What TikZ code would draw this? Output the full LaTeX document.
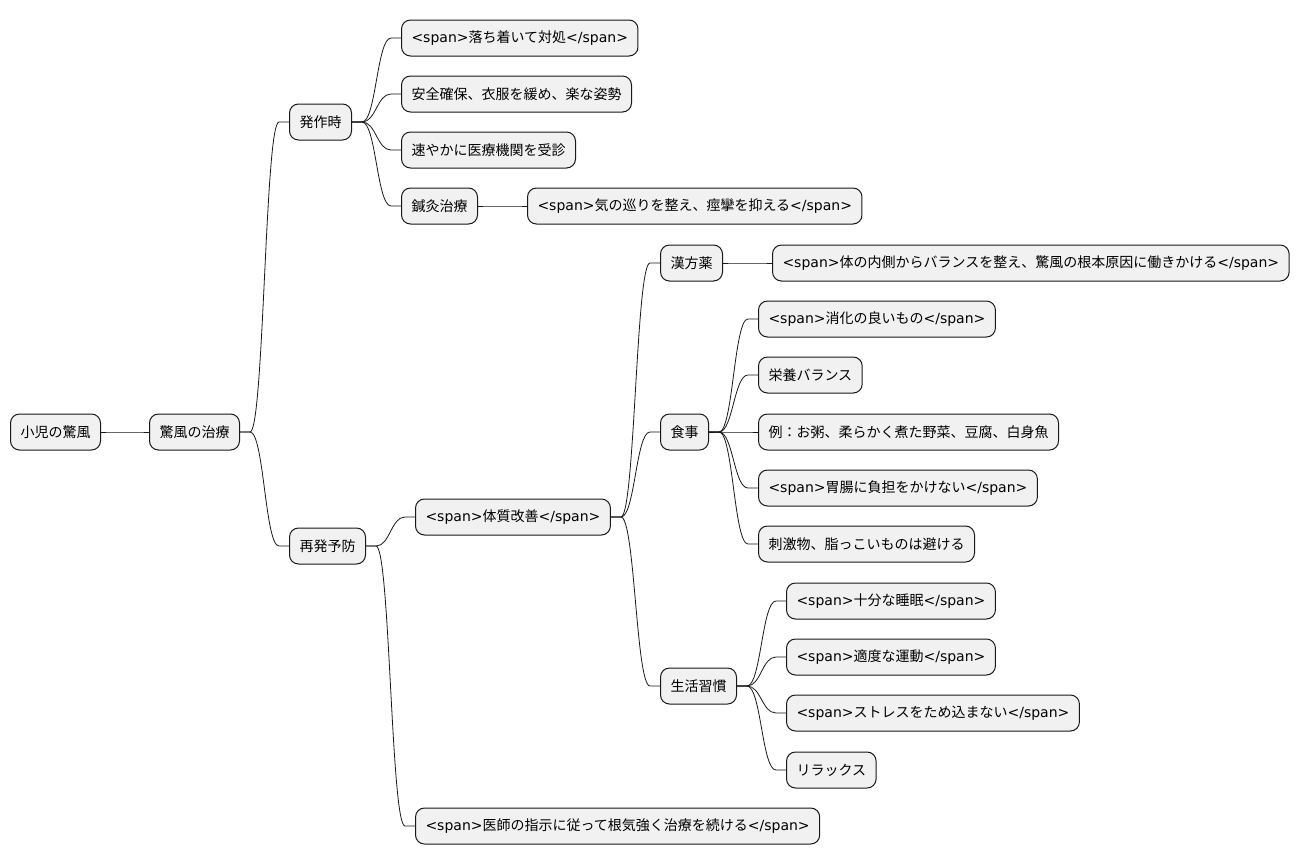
\documentclass[tikz,border=0pt]{standalone}
\usepackage{fontspec}
\setmainfont{DejaVu Sans}
\newfontfamily\jpfont{Noto Sans CJK JP}
\newfontfamily\dvfont{DejaVu Sans}
\usepackage{tikz}
\usepackage{xcolor}
\usetikzlibrary{positioning}
\definecolor{boxfill}{HTML}{F1F1F1}
\definecolor{boxline}{HTML}{181818}
% span tags are set in the Latin font
\newcommand\spn[1]{{\dvfont<span>}#1{\dvfont</span>}}
\tikzset{
  mmbox/.style={rectangle, draw=boxline, fill=boxfill, line width=1pt,
                rounded corners=9pt, minimum height=36pt, inner xsep=10pt,
                anchor=west, font=\fontsize{14pt}{16pt}\jpfont},
  branch/.style={draw=boxline, line width=0.8pt},
}

\begin{document}
\begin{tikzpicture}[x=1pt, y=-1pt]
  \useasboundingbox (0,0) rectangle (1300,865);

  \node[mmbox] (root)    at (10,432)  {小児の驚風};
  \node[mmbox] (treat)   at (149,432) {驚風の治療};

  \node[mmbox] (attack)  at (289,122) {発作時};
  \node[mmbox] (prevent) at (289,546) {再発予防};

  % during an attack
  \node[mmbox] (calm)  at (401,38)  {\spn{落ち着いて対処}};
  \node[mmbox] (safe)  at (401,94)  {安全確保、衣服を緩め、楽な姿勢};
  \node[mmbox] (hosp)  at (401,150) {速やかに医療機関を受診};
  \node[mmbox] (acu)   at (401,206) {鍼灸治療};
  \node[mmbox] (qi)    at (527,206) {\spn{気の巡りを整え、痙攣を抑える}};

  % prevention
  \node[mmbox] (body)   at (415,517) {\spn{体質改善}};
  \node[mmbox] (doctor) at (415,826) {\spn{医師の指示に従って根気強く治療を続ける}};

  \node[mmbox] (kampo)    at (660,263) {漢方薬};
  \node[mmbox] (kampotxt) at (772,263) {\spn{体の内側からバランスを整え、驚風の根本原因に働きかける}};

  \node[mmbox] (diet)    at (660,432) {食事};
  \node[mmbox] (digest)  at (758,319) {\spn{消化の良いもの}};
  \node[mmbox] (nutri)   at (758,375) {栄養バランス};
  \node[mmbox] (example) at (758,432) {例：お粥、柔らかく煮た野菜、豆腐、白身魚};
  \node[mmbox] (stomach) at (758,488) {\spn{胃腸に負担をかけない}};
  \node[mmbox] (spicy)   at (758,544) {刺激物、脂っこいものは避ける};

  \node[mmbox] (life)     at (660,686) {生活習慣};
  \node[mmbox] (sleep)    at (786,601) {\spn{十分な睡眠}};
  \node[mmbox] (exercise) at (786,657) {\spn{適度な運動}};
  \node[mmbox] (stress)   at (786,713) {\spn{ストレスをため込まない}};
  \node[mmbox] (relax)    at (786,770) {リラックス};

  \foreach \a/\b in {root/treat, treat/attack, treat/prevent,
                     attack/calm, attack/safe, attack/hosp, attack/acu, acu/qi,
                     prevent/body, prevent/doctor,
                     body/kampo, body/diet, body/life, kampo/kampotxt,
                     diet/digest, diet/nutri, diet/example, diet/stomach, diet/spicy,
                     life/sleep, life/exercise, life/stress, life/relax}
    \draw[branch] (\a.east) -- ++(10,0)
      to[out=0, in=180, out distance=14pt, in distance=14pt]
      ([xshift=-10pt]\b.west) -- (\b.west);
\end{tikzpicture}
\end{document}
